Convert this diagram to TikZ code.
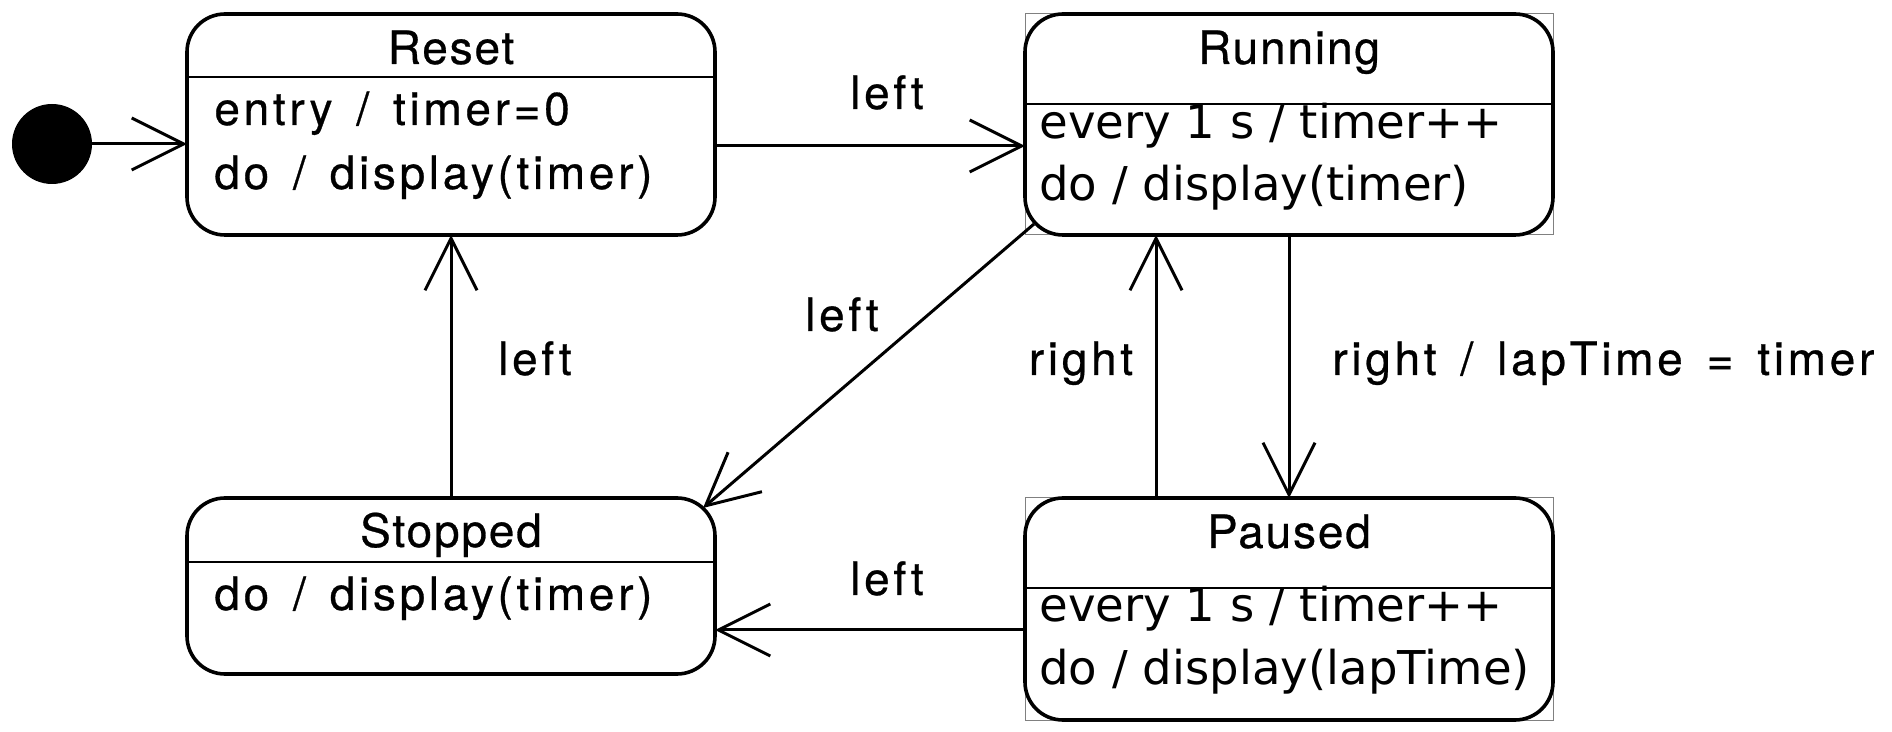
\documentclass[tikz,border=0pt]{standalone}
\usepackage{fontspec}
\usetikzlibrary{arrows.meta}
\newfontfamily\hvfont[LetterSpace=8,WordSpace=1.45,FakeBold=0.6]{TeX Gyre Heros}
\newfontfamily\hvtitle[LetterSpace=4,FakeBold=0.6]{TeX Gyre Heros}
\newfontfamily\dvfont{DejaVu Sans}
\tikzset{
  statebox/.style={draw, line width=1.8pt, rounded corners=19pt, minimum width=264pt,
    inner sep=0pt, outer sep=0pt, fill=white},
  grayframe/.style={draw=black!50, line width=0.5pt},
  divider/.style={line width=1.2pt},
  conn/.style={line width=1.5pt, -{Straight Barb[length=26pt,width=26pt,line width=1.5pt]}},
  hvtxt/.style={inner sep=0pt, font={\hvfont\fontsize{23}{27}\selectfont}},
  titletxt/.style={inner sep=0pt, anchor=base, font={\hvtitle\fontsize{23}{27}\selectfont}},
  dvtxt/.style={inner sep=0pt, anchor=base west, font={\dvfont\fontsize{23.3}{27}\selectfont}},
}
\begin{document}
\begin{tikzpicture}[x=1pt,y=-1pt]
\useasboundingbox (0,0) rectangle (946,366);
\fill[white] (0,0) rectangle (946,366);

% initial state
\fill (26,72) circle (20);
\node[circle, minimum size=40pt, inner sep=0pt, outer sep=0pt] (init) at (26,72) {};

% gray frames
\draw[grayframe] (512.5,7) rectangle (776.5,117.5);
\draw[grayframe] (512.5,249) rectangle (776.5,360);

% states
\node[statebox, minimum height=110.5pt] (reset) at (225.5,62.25) {};
\node[statebox, minimum height=110.5pt] (running) at (644.5,62.25) {};
\node[statebox, minimum height=88pt] (stopped) at (225.5,293) {};
\node[statebox, minimum height=111pt] (paused) at (644.5,304.5) {};

% dividers
\coordinate (dvA) at (0,38.5);
\coordinate (dvB) at (0,52);
\coordinate (dvC) at (0,281);
\coordinate (dvD) at (0,294);
\draw[divider] (reset.west |- dvA) -- (reset.east |- dvA);
\draw[divider] (running.west |- dvB) -- (running.east |- dvB);
\draw[divider] (stopped.west |- dvC) -- (stopped.east |- dvC);
\draw[divider] (paused.west |- dvD) -- (paused.east |- dvD);

% titles
\node[titletxt] (tReset) at (225.5,32) {Reset};
\node[titletxt] (tRunning) at (644.5,32) {Running};
\node[titletxt] (tStopped) at (225.5,273.5) {Stopped};
\node[titletxt] (tPaused) at (644.5,274) {Paused};

% bodies
\node[hvtxt, anchor=base west] (r1) at (107,62.5) {entry / timer=0};
\node[hvtxt, anchor=base west] (r2) at (107,94.5) {do / display(timer)};
\node[dvtxt] (u1) at (519.5,69.5) {every 1 s / timer++};
\node[dvtxt] (u2) at (519.5,100.5) {do / display(timer)};
\node[hvtxt, anchor=base west] (s1) at (107,305) {do / display(timer)};
\node[dvtxt] (p1) at (519.5,311) {every 1 s / timer++};
\node[dvtxt] (p2) at (519.5,342) {do / display(lapTime)};

% connectors
\draw[conn] (init.east) -- (init -| reset.west);
\coordinate (rr) at (0,73);
\draw[conn] (rr -| reset.east) -- (rr -| running.west);
\draw[conn] (stopped.north) -- (reset.south);
\coordinate (d1) at (517,112);
\coordinate (d2) at (351.5,254);
\draw[conn] (d1) -- (d2);
\coordinate (pr) at (578,0);
\draw[conn] (pr |- paused.north) -- (pr |- running.south);
\draw[conn] (running.south) -- (paused.north);
\coordinate (ps) at (0,315);
\draw[conn] (ps -| paused.west) -- (ps -| stopped.east);

% labels
\node[hvtxt, anchor=base] (l1) at (443.5,54.5) {left};
\node[hvtxt, anchor=base] (l2) at (421,165.5) {left};
\node[hvtxt, anchor=base] (l3) at (267.5,187.5) {left};
\node[hvtxt, anchor=base] (l4) at (540.5,187.5) {right};
\node[hvtxt, anchor=base west] (l5) at (666,187.5) {right / lapTime = timer};
\node[hvtxt, anchor=base] (l6) at (443.5,297.5) {left};
\end{tikzpicture}
\end{document}
